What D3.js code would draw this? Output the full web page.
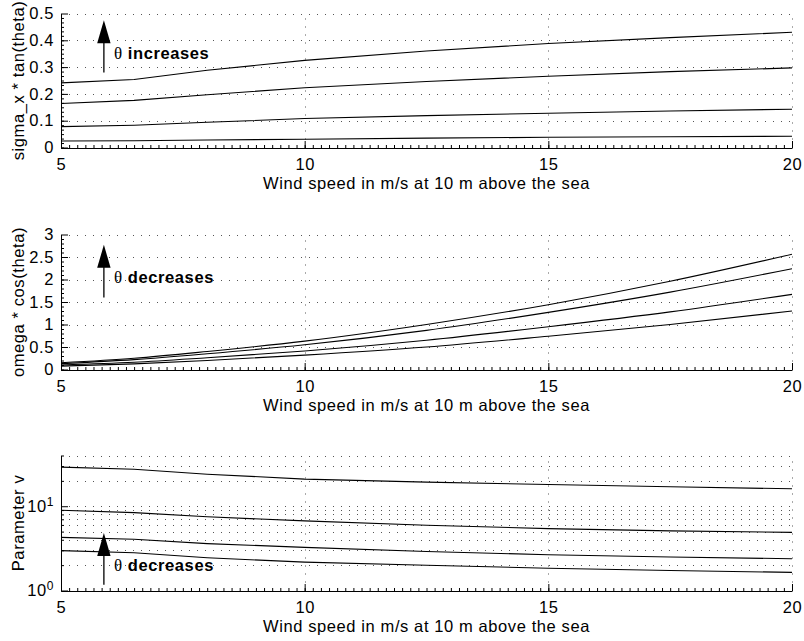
<!DOCTYPE html>
<html>
<head>
<meta charset="utf-8">
<script src="https://cdn.jsdelivr.net/npm/d3@7"></script>
<style>
  body { margin: 0; background: #fff; }
  svg { display: block; font-family: "Liberation Sans", Arial, Helvetica, sans-serif; }
  .axis text { font-size: 16.5px; letter-spacing: 0.6px; fill: #000; }
  .axis path, .axis line { stroke: #000; }
  .title { font-size: 16.5px; letter-spacing: 0.6px; fill: #000; }
  .grid line { stroke: #555; stroke-width: 1; stroke-dasharray: 1,7; }
  .curve { fill: none; stroke: #000; stroke-width: 1.1; }
</style>
</head>
<body>
<svg width="804" height="641"></svg>
<script>
// wind speed samples (m/s at 10 m)
const windSpeed = [5, 6.5, 8, 10, 12.5, 15, 17.5, 20];

// sigma_x * tan(theta), one row per theta
const sigmaTan = [
  [0.241, 0.254, 0.288, 0.325, 0.360, 0.388, 0.410, 0.430],
  [0.164, 0.176, 0.197, 0.223, 0.246, 0.266, 0.283, 0.297],
  [0.078, 0.083, 0.094, 0.108, 0.119, 0.128, 0.136, 0.143],
  [0.024, 0.025, 0.028, 0.031, 0.035, 0.038, 0.040, 0.042]
];

// omega * cos(theta)
const omegaCos = [
  [0.15, 0.25, 0.40, 0.63, 1.00, 1.44, 1.96, 2.56],
  [0.13, 0.22, 0.35, 0.55, 0.87, 1.27, 1.72, 2.24],
  [0.10, 0.16, 0.26, 0.41, 0.65, 0.95, 1.28, 1.67],
  [0.075, 0.125, 0.20, 0.32, 0.50, 0.74, 1.00, 1.30]
];

// parameter v (log axis)
const paramV = [
  [29.1, 27.5, 24.0, 21.0, 19.3, 18.1, 17.0, 16.1],
  [8.96, 8.40, 7.50, 6.70, 5.95, 5.42, 5.10, 4.90],
  [4.27, 4.05, 3.60, 3.25, 2.90, 2.66, 2.50, 2.38],
  [2.97, 2.80, 2.45, 2.17, 1.99, 1.84, 1.73, 1.64]
];

const xTicks = [5, 10, 15, 20];
const sigmaTicks = [0, 0.1, 0.2, 0.3, 0.4, 0.5];
const omegaTicks = [0, 0.5, 1, 1.5, 2, 2.5, 3];
const vTicks = [1, 10];
const vMinorTicks = [2, 3, 4, 5, 6, 7, 8, 9, 20, 30, 40];

const xTitle = "Wind speed in m/s at 10 m above the sea";

const svg = d3.select("svg");
svg.append("rect").attr("width", 804).attr("height", 641).attr("fill", "#fff");

const x = d3.scaleLinear().domain([5, 20]).range([61, 792]);

const panels = [
  {
    data: sigmaTan,
    y: d3.scaleLinear().domain([0, 0.5]).range([147.5, 13.5]),
    curve: d3.curveLinear,
    ticks: sigmaTicks,
    minor: d3.range(0, 0.5, 0.1 / 6),
    grid: sigmaTicks,
    label: "sigma_x * tan(theta)",
    note: "increases",
    arrow: { x: 5.88, tail: 0.28, tip: 0.475, text: 0.354 }
  },
  {
    data: omegaCos,
    y: d3.scaleLinear().domain([0, 3]).range([369.5, 234.5]),
    curve: d3.curveMonotoneX,
    ticks: omegaTicks,
    minor: d3.range(0, 3, 0.1),
    grid: omegaTicks,
    label: "omega * cos(theta)",
    note: "decreases",
    arrow: { x: 5.88, tail: 1.6, tip: 2.77, text: 2.05 }
  },
  {
    data: paramV,
    y: d3.scaleLog().domain([1, 40]).range([590.5, 455.5]),
    curve: d3.curveLinear,
    ticks: vTicks,
    minor: vMinorTicks,
    grid: vTicks.concat(vMinorTicks),
    label: "Parameter v",
    note: "decreases",
    log: true,
    arrow: { x: 5.88, tail: 1.17, tip: 4.81, text: 2.02 }
  }
];

panels.forEach((p) => {
  const y = p.y;
  const g = svg.append("g");
  const [y0, y1] = y.range();

  // dotted grid
  const grid = g.append("g").attr("class", "grid");
  grid.selectAll(".h")
    .data(p.grid)
    .enter()
    .append("line")
    .attr("x1", x(5))
    .attr("x2", x(20))
    .attr("y1", (d) => Math.round(y(d)) + 0.5)
    .attr("y2", (d) => Math.round(y(d)) + 0.5);
  grid.selectAll(".v")
    .data(xTicks.slice(1))
    .enter()
    .append("line")
    .attr("x1", (d) => Math.round(x(d)) + 0.5)
    .attr("x2", (d) => Math.round(x(d)) + 0.5)
    .attr("y1", y0)
    .attr("y2", y1);

  // curves
  const line = d3.line()
    .curve(p.curve)
    .x((d, i) => x(windSpeed[i]))
    .y((d) => y(d));
  g.selectAll(".curve")
    .data(p.data)
    .enter()
    .append("path")
    .attr("class", "curve")
    .attr("d", line);

  // x axis, ticks pointing inward
  g.append("g")
    .attr("class", "axis")
    .attr("transform", `translate(0,${Math.round(y0)})`)
    .call(d3.axisBottom(x).tickValues(xTicks).tickSizeInner(-7).tickSizeOuter(0).tickPadding(10));
  g.append("g")
    .attr("class", "axis")
    .attr("transform", `translate(0,${Math.round(y0)})`)
    .call(d3.axisBottom(x).tickValues(d3.range(5, 20, 1 / 6)).tickSizeInner(-3).tickSizeOuter(0).tickFormat(""))
    .call((a) => a.select(".domain").remove());

  // y axis
  const yAxis = d3.axisLeft(y)
    .tickValues(p.ticks)
    .tickSizeInner(-7)
    .tickSizeOuter(0)
    .tickPadding(7)
    .tickFormat(p.log ? () => "" : d3.format("~g"));
  const ya = g.append("g")
    .attr("class", "axis")
    .attr("transform", `translate(${Math.round(x(5))},0)`)
    .call(yAxis);
  if (p.log) {
    ya.selectAll(".tick text").each(function (d) {
      const t = d3.select(this);
      t.append("tspan").text("10");
      t.append("tspan")
        .attr("dy", "-0.5em")
        .style("font-size", "12px")
        .text(Math.round(Math.log10(d)));
    });
  }
  g.append("g")
    .attr("class", "axis")
    .attr("transform", `translate(${Math.round(x(5))},0)`)
    .call(d3.axisLeft(y).tickValues(p.minor).tickSizeInner(-3).tickSizeOuter(0).tickFormat(""))
    .call((a) => a.select(".domain").remove());

  // titles
  g.append("text")
    .attr("class", "title")
    .attr("x", (x(5) + x(20)) / 2)
    .attr("y", y0 + 41.5)
    .attr("text-anchor", "middle")
    .text(xTitle);
  g.append("text")
    .attr("class", "title")
    .attr("transform", `translate(24,${(y0 + y1) / 2}) rotate(-90)`)
    .attr("text-anchor", "middle")
    .text(p.label);

  // theta arrow
  const a = p.arrow;
  const ax = x(a.x);
  const tipY = y(a.tip);
  g.append("line")
    .attr("x1", ax)
    .attr("x2", ax)
    .attr("y1", y(a.tail))
    .attr("y2", tipY + 20)
    .attr("stroke", "#000")
    .attr("stroke-width", 1.3);
  g.append("path")
    .attr("d", `M${ax},${tipY}L${ax - 6.7},${tipY + 23}L${ax + 6.7},${tipY + 23}Z`)
    .attr("fill", "#000");
  const note = g.append("text")
    .attr("x", ax + 10)
    .attr("y", y(a.text))
    .attr("dy", "0.36em")
    .style("font-size", "16.5px")
    .style("letter-spacing", "0.6px");
  note.append("tspan")
    .style("font-family", "'Liberation Serif', 'DejaVu Serif', serif")
    .style("font-size", "17px")
    .text("θ");
  note.append("tspan")
    .style("font-weight", "bold")
    .text(" " + p.note);
});
</script>
</body>
</html>
